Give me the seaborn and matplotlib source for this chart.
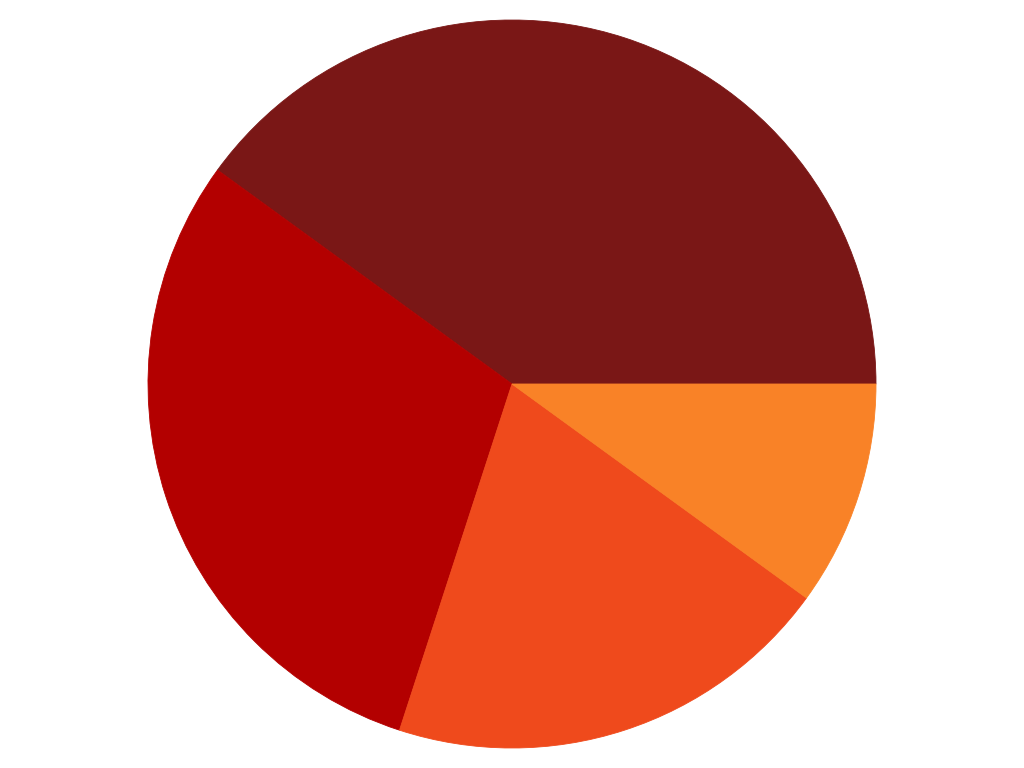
import matplotlib
matplotlib.use("Agg")
import matplotlib.pyplot as plt
import seaborn as sns

labels = ["A", "B", "C", "D"]
values = [40, 30, 20, 10]
colors = ["#7a1716", "#b30000", "#ef4a1c", "#f98227"]

sns.set_theme(style="white")
fig = plt.figure(figsize=(10.24, 7.68), dpi=100)
ax = fig.add_axes([0, 0, 1, 1])
wedges, _ = ax.pie(values, colors=colors, startangle=0, counterclock=True)
for w, c in zip(wedges, colors):
    w.set_edgecolor(c)
    w.set_linewidth(0.6)
ax.set_aspect("equal")
ax.set_ylim(-768/728, 768/728)
ax.set_xlim(-1024/728, 1024/728)
ax.axis("off")
fig.savefig("out.png", dpi=100)
